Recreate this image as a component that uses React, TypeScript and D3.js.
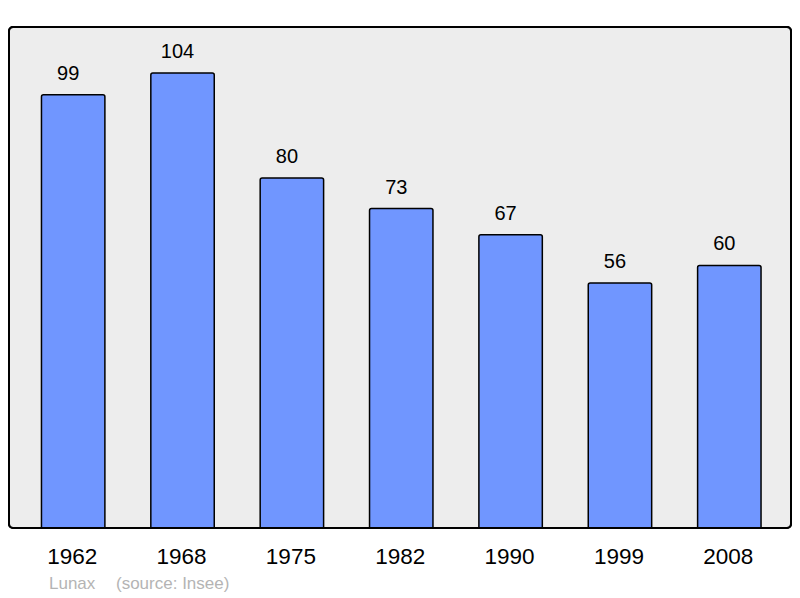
import React from "react";
import * as d3 from "d3";

const years = ["1962", "1968", "1975", "1982", "1990", "1999", "2008"];
const population = [99, 104, 80, 73, 67, 56, 60];
const creditAuthor = "Lunax";
const creditSource = "(source: Insee)";

const W = 800;
const H = 598;
const panel = { x: 9, y: 27, w: 782, h: 501 };

export default function App() {
  const x = d3
    .scaleBand<string>()
    .domain(years)
    .range([18.5, 784])
    .paddingInner(0.42)
    .paddingOuter(0.21);
  const y = d3.scaleLinear().domain([0, 114.5]).range([panel.y + panel.h, panel.y]);
  const bw = x.bandwidth();
  return (
    <svg
      width={W}
      height={H}
      style={{ position: "absolute", left: 0, top: 0, fontFamily: "'Liberation Sans', Arial, sans-serif" }}
    >
      <rect x={0} y={0} width={W} height={H} fill="#ffffff" />
      <rect
        x={panel.x}
        y={panel.y}
        width={panel.w}
        height={panel.h}
        rx={4}
        fill="#ededed"
        stroke="#000"
        strokeWidth={2}
      />
      {years.map((yr, i) => {
        const top = y(population[i]);
        const bx = x(yr)!;
        return (
          <g key={yr}>
            <path
              d={`M${bx},${y(0)} V${top + 2} Q${bx},${top} ${bx + 2},${top} H${bx + bw - 2} Q${bx + bw},${top} ${bx + bw},${top + 2} V${y(0)}`}
              fill="#7096ff"
              stroke="#000"
              strokeWidth={1.5}
            />
            <text x={bx + bw / 2 - 5} y={top - 15} textAnchor="middle" fontSize={20} fill="#000">
              {population[i]}
            </text>
            <text x={bx + bw / 2 - 1} y={564} textAnchor="middle" fontSize={22.5} fill="#000">
              {yr}
            </text>
          </g>
        );
      })}
      <rect
        x={panel.x}
        y={panel.y}
        width={panel.w}
        height={panel.h}
        rx={4}
        fill="none"
        stroke="#000"
        strokeWidth={2}
      />
      <text x={49} y={589} fontSize={17} fill="#b4b4b4">
        {creditAuthor}
      </text>
      <text x={116} y={589} fontSize={17} fill="#b4b4b4">
        {creditSource}
      </text>
    </svg>
  );
}
